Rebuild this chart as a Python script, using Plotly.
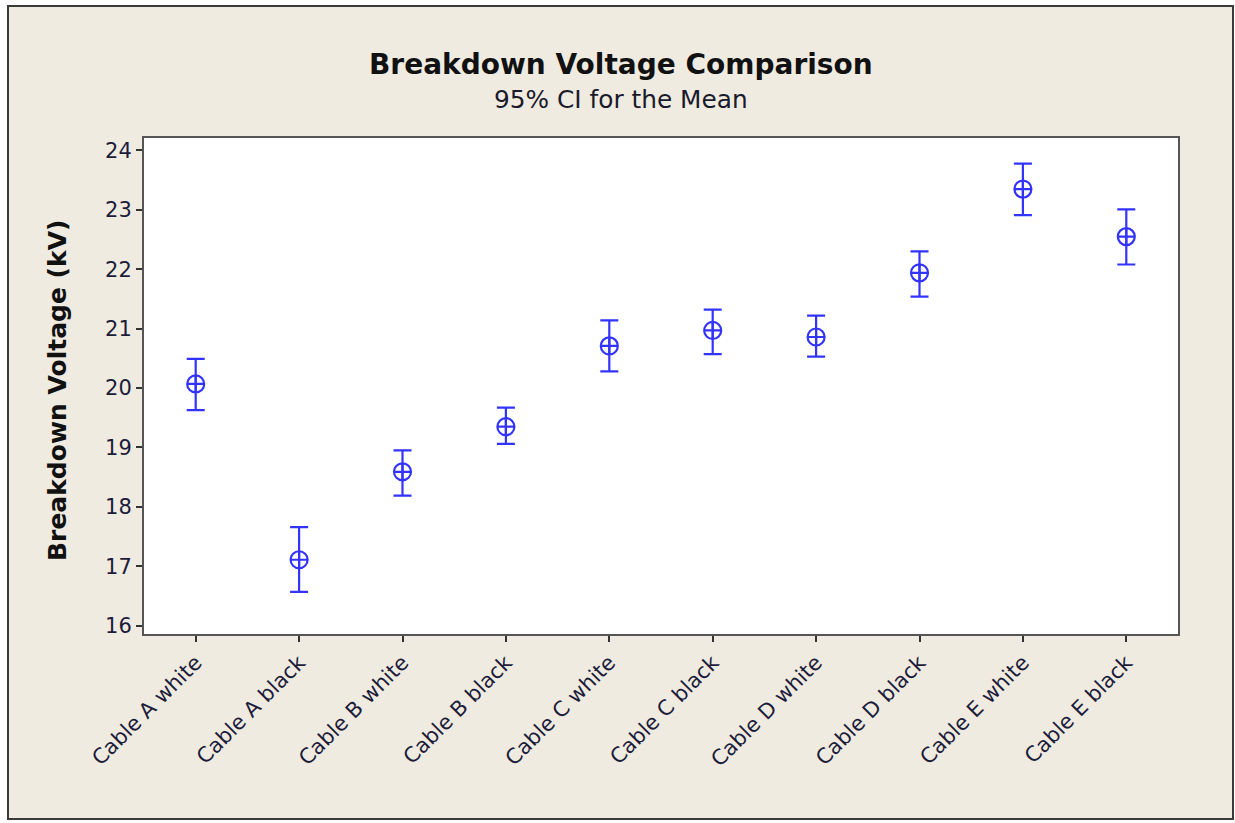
import plotly.graph_objects as go

categories = ["Cable A white", "Cable A black", "Cable B white", "Cable B black",
              "Cable C white", "Cable C black", "Cable D white", "Cable D black",
              "Cable E white", "Cable E black"]
means = [20.07, 17.11, 18.59, 19.35, 20.71, 20.97, 20.86, 21.94, 23.35, 22.55]
upper = [20.49, 17.66, 18.95, 19.67, 21.14, 21.32, 21.22, 22.30, 23.78, 23.01]
lower = [19.63, 16.57, 18.19, 19.06, 20.28, 20.57, 20.53, 21.54, 22.91, 22.08]
y_ticks = [16, 17, 18, 19, 20, 21, 22, 23, 24]

W, H = 1235, 823
L, R, T, B = 144, 57, 138, 189
pw, ph = W - L - R, H - T - B

def px_x(p):
    return (p - L) / pw

def px_y(p):
    return (H - B - p) / ph

blue = "#3333ff"
tickcol = "#1c1c3a"
font = "DejaVu Sans"

fig = go.Figure()
fig.add_trace(go.Scatter(
    x=list(range(len(categories))), y=means, mode="markers",
    marker=dict(symbol="circle-cross-open", size=17, color=blue,
                line=dict(width=2.2, color=blue)),
    error_y=dict(type="data", symmetric=False,
                 array=[u - m for u, m in zip(upper, means)],
                 arrayminus=[m - l for m, l in zip(means, lower)],
                 color=blue, thickness=2.2, width=9),
    showlegend=False,
))

shapes = [
    dict(type="rect", xref="paper", yref="paper", layer="below",
         x0=px_x(8), x1=px_x(1233), y0=px_y(6), y1=px_y(819),
         fillcolor="#efebe1", line=dict(color="#3a3a3a", width=2)),
    dict(type="rect", xref="paper", yref="paper", layer="below",
         x0=0, x1=1, y0=0, y1=1, fillcolor="white", line=dict(width=0)),
]

annotations = [
    dict(text="<b>Breakdown Voltage Comparison</b>", xref="paper", yref="paper",
         x=px_x(621), y=px_y(64), showarrow=False, xanchor="center", yanchor="middle",
         font=dict(family=font, size=28, color="#111111")),
    dict(text="95% CI for the Mean", xref="paper", yref="paper",
         x=px_x(621), y=px_y(100), showarrow=False, xanchor="center", yanchor="middle",
         font=dict(family=font, size=24.8, color="#1a1a2a")),
    dict(text="<b>Breakdown Voltage (kV)</b>", xref="paper", yref="paper",
         x=px_x(57), y=px_y(391), showarrow=False, xanchor="center", yanchor="middle",
         textangle=-90, font=dict(family=font, size=25, color="#111111")),
]

fig.update_layout(
    width=W, height=H,
    margin=dict(l=L, r=R, t=T, b=B, pad=0),
    paper_bgcolor="white", plot_bgcolor="rgba(0,0,0,0)",
    shapes=shapes, annotations=annotations,
    font=dict(family=font, color=tickcol),
)
fig.update_xaxes(
    range=[-0.5, 9.5], tickmode="array", tickvals=list(range(len(categories))),
    ticktext=categories, tickangle=-45, tickfont=dict(family=font, size=21, color=tickcol),
    ticks="outside", ticklen=6, tickwidth=2, tickcolor="#333333",
    showline=True, linecolor="#555555", linewidth=2, mirror=True,
    showgrid=False, zeroline=False,
)
fig.update_yaxes(
    range=[15.86, 24.21], tickmode="array", tickvals=y_ticks,
    tickfont=dict(family=font, size=21, color=tickcol),
    ticks="outside", ticklen=6, tickwidth=2, tickcolor="#333333",
    showline=True, linecolor="#555555", linewidth=2, mirror=True,
    showgrid=False, zeroline=False,
)

fig.write_html("out.html", config={"displayModeBar": False},
               post_script="document.body.style.margin='0px';document.body.style.overflow='hidden';")
